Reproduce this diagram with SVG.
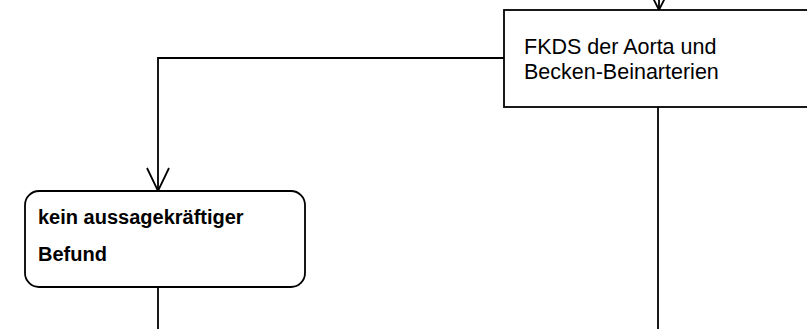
<svg xmlns="http://www.w3.org/2000/svg" width="807" height="329" viewBox="0 0 807 329">
<style>
.ln{fill:none;stroke:#000;stroke-width:1.8}
.box{fill:#fff;stroke:#000;stroke-width:1.8}
.t{font-family:"Liberation Sans",Arial,sans-serif;font-size:21.5px;fill:#000}
.b{font-weight:bold;font-size:20px}
</style>
<rect width="807" height="329" fill="#fff"/>
<g id="connectors">
<line class="ln" x1="659" y1="0" x2="659" y2="10"/>
<polyline class="ln" points="648,-12 659,10 670,-12"/>
<polyline class="ln" points="504,58 158,58 158,191"/>
<polyline class="ln" points="147,168 158,191 169,168"/>
<line class="ln" x1="658" y1="107" x2="658" y2="329"/>
<line class="ln" x1="158" y1="287" x2="158" y2="329"/>
</g>
<g id="fkds">
<rect class="box" x="504" y="10" width="320" height="97"/>
<text class="t" x="524" y="54">FKDS der Aorta und</text>
<text class="t" x="524" y="79">Becken-Beinarterien</text>
</g>
<g id="kein-befund">
<rect class="box" x="25" y="191" width="280" height="96" rx="14" ry="14"/>
<text class="t b" x="38" y="224">kein aussagekräftiger</text>
<text class="t b" x="38" y="261">Befund</text>
</g>
</svg>
